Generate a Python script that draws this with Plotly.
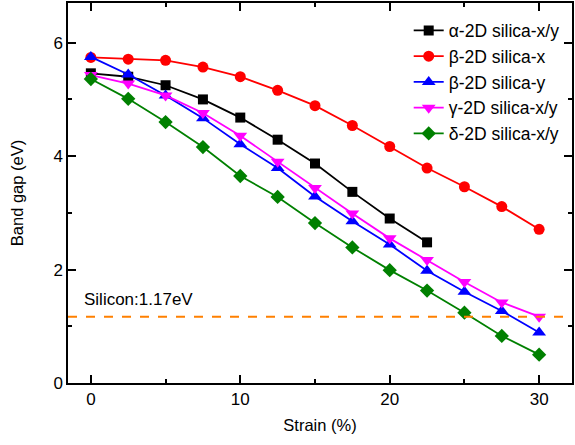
import plotly.graph_objects as go

strain_full = [0, 2.5, 5, 7.5, 10, 12.5, 15, 17.5, 20, 22.5, 25, 27.5, 30]
strain_alpha = [0, 2.5, 5, 7.5, 10, 12.5, 15, 17.5, 20, 22.5]

alpha_xy = [5.46, 5.40, 5.25, 5.00, 4.68, 4.29, 3.87, 3.37, 2.90, 2.48]
beta_x = [5.74, 5.71, 5.69, 5.57, 5.40, 5.16, 4.89, 4.54, 4.17, 3.79, 3.46, 3.11, 2.71]
beta_y = [5.75, 5.44, 5.07, 4.67, 4.21, 3.79, 3.29, 2.85, 2.44, 1.98, 1.61, 1.27, 0.89]
gamma_xy = [5.43, 5.28, 5.07, 4.76, 4.36, 3.90, 3.44, 2.99, 2.55, 2.17, 1.78, 1.42, 1.17]
delta_xy = [5.36, 5.01, 4.60, 4.16, 3.65, 3.28, 2.82, 2.39, 1.99, 1.63, 1.24, 0.83, 0.50]

silicon_gap = 1.17
silicon_label = "Silicon:1.17eV"

names = ["α-2D silica-x/y", "β-2D silica-x", "β-2D silica-y", "γ-2D silica-x/y", "δ-2D silica-x/y"]
colors = ["#000000", "#FF0000", "#0000FF", "#FF00FF", "#008000"]
symbols = ["square", "circle", "triangle-up", "triangle-down", "diamond"]
sizes = [10, 11, 12, 12, 11]
xs = [strain_alpha, strain_full, strain_full, strain_full, strain_full]
ys = [alpha_xy, beta_x, beta_y, gamma_xy, delta_xy]

fig = go.Figure()
for n, c, s, sz, x, y in zip(names, colors, symbols, sizes, xs, ys):
    fig.add_trace(go.Scatter(
        x=x, y=y, name=n, mode="lines+markers",
        line=dict(color=c, width=1.8),
        marker=dict(symbol=s, size=sz, color=c),
    ))

fig.add_hline(y=silicon_gap, line=dict(color="#FF8000", width=2, dash="dash"))
fig.add_annotation(x=-0.6, y=silicon_gap, yshift=17, text=silicon_label, showarrow=False,
                   xanchor="left", yanchor="middle", font=dict(size=17, color="#000"))

axis_common = dict(
    showline=True, linecolor="#000", linewidth=1.5, mirror="allticks",
    ticks="inside", ticklen=8, tickwidth=1.5, tickcolor="#000",
    showgrid=False, zeroline=False,
    tickfont=dict(size=17, color="#000"),
)

fig.update_xaxes(range=[-1.53, 32.2], tickvals=[0, 10, 20, 30],
                 minor=dict(ticks="inside", ticklen=4, tickwidth=1.5, tickcolor="#000", dtick=5, tick0=0),
                 title=dict(text="Strain (%)", font=dict(size=16.5, color="#000"), standoff=11),
                 **axis_common)
fig.update_yaxes(range=[0, 6.7], tickvals=[0, 2, 4, 6],
                 minor=dict(ticks="inside", ticklen=4, tickwidth=1.5, tickcolor="#000", dtick=1, tick0=0),
                 title=dict(text="Band gap (eV)", font=dict(size=16.5, color="#000"), standoff=26),
                 **axis_common)

fig.update_layout(
    width=575, height=445,
    margin=dict(l=68, r=1, t=3, b=62),
    paper_bgcolor="white", plot_bgcolor="white",
    font=dict(family="Liberation Sans, Arial, sans-serif", color="#000"),
    legend=dict(x=0.676, y=0.975, xanchor="left", yanchor="top",
                bgcolor="rgba(0,0,0,0)", font=dict(size=17.5), tracegroupgap=0),
    showlegend=True,
)

fig.write_html("out.html")
